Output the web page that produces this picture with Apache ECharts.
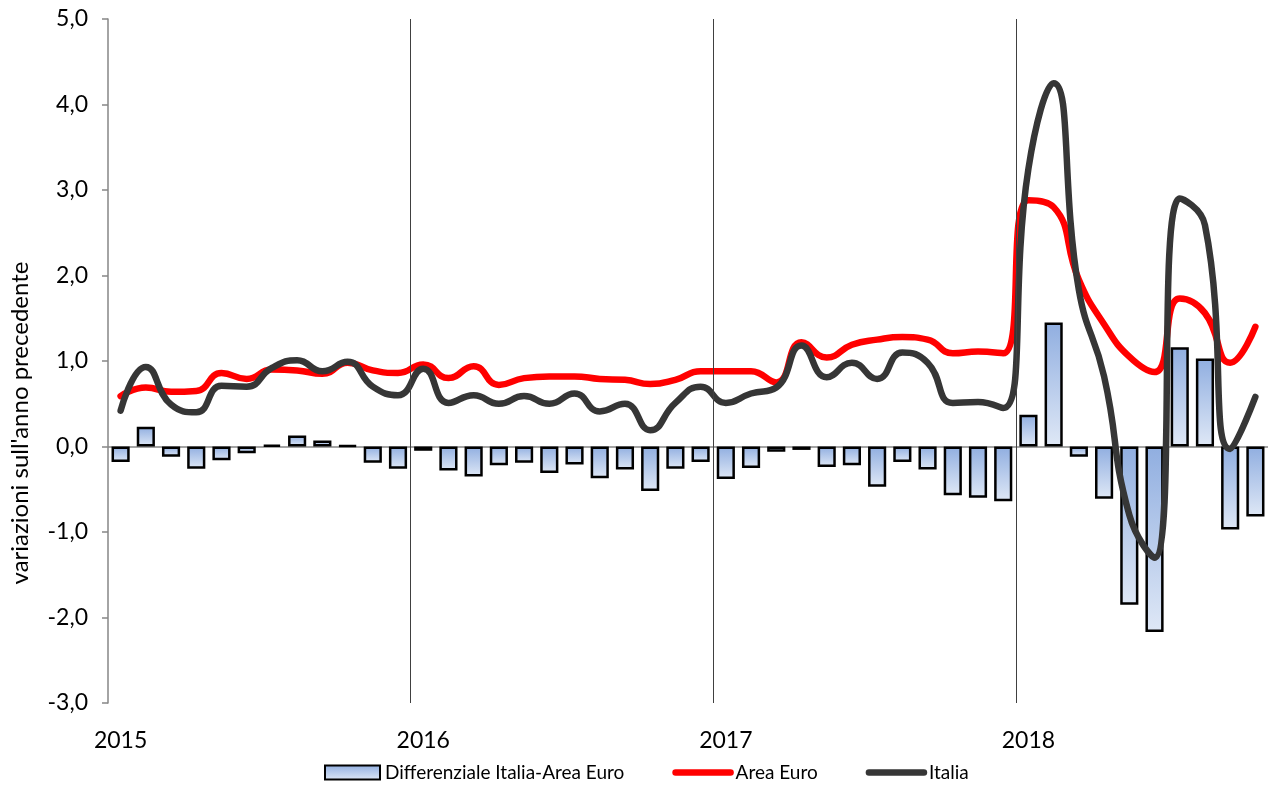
<!DOCTYPE html>
<html>
<head>
<meta charset="utf-8">
<script src="https://cdn.jsdelivr.net/npm/echarts@6/dist/echarts.min.js"></script>
<style>
html,body{margin:0;padding:0;background:#fff;}
#chart{width:1272px;height:789px;}
</style>
</head>
<body>
<div id="chart"></div>
<script>
// Months Jan 2015 - Oct 2018
const months = [
  '2015-01','2015-02','2015-03','2015-04','2015-05','2015-06','2015-07','2015-08','2015-09','2015-10','2015-11','2015-12',
  '2016-01','2016-02','2016-03','2016-04','2016-05','2016-06','2016-07','2016-08','2016-09','2016-10','2016-11','2016-12',
  '2017-01','2017-02','2017-03','2017-04','2017-05','2017-06','2017-07','2017-08','2017-09','2017-10','2017-11','2017-12',
  '2018-01','2018-02','2018-03','2018-04','2018-05','2018-06','2018-07','2018-08','2018-09','2018-10'
];

const differenziale = [
  -0.18, 0.23, -0.12, -0.26, -0.16, -0.08, 0.02, 0.13, 0.07, 0.01, -0.19, -0.26,
  -0.05, -0.28, -0.35, -0.22, -0.19, -0.31, -0.21, -0.37, -0.27, -0.52, -0.26, -0.18,
  -0.38, -0.25, -0.06, -0.04, -0.24, -0.22, -0.47, -0.18, -0.27, -0.57, -0.60, -0.64,
  0.37, 1.45, -0.12, -0.61, -1.85, -2.17, 1.16, 1.03, -0.97, -0.82
];

const areaEuro = [
  0.59, 0.69, 0.64, 0.65, 0.86, 0.79, 0.90, 0.89, 0.85, 0.98, 0.89, 0.86,
  0.96, 0.80, 0.94, 0.72, 0.80, 0.82, 0.82, 0.79, 0.78, 0.73, 0.78, 0.88,
  0.88, 0.88, 0.75, 1.22, 1.04, 1.19, 1.25, 1.28, 1.25, 1.09, 1.11, 1.09,
  2.88, 2.80, 1.95, 1.43, 1.05, 0.87, 1.73, 1.56, 0.98, 1.40
];

const italia = [
  0.42, 0.93, 0.49, 0.40, 0.71, 0.70, 0.92, 1.01, 0.88, 0.99, 0.70, 0.60,
  0.91, 0.51, 0.60, 0.50, 0.59, 0.50, 0.62, 0.41, 0.50, 0.19, 0.51, 0.70,
  0.51, 0.62, 0.69, 1.18, 0.81, 0.98, 0.79, 1.10, 0.98, 0.51, 0.52, 0.45,
  3.25, 4.25, 1.83, 0.82, -0.80, -1.30, 2.90, 2.59, -0.03, 0.58
];

const yTicks = { min: -3, max: 5, interval: 1 };
const yAxisName = "variazioni sull'anno precedente";
const seriesNames = ['Differenziale Italia-Area Euro', 'Area Euro', 'Italia'];

const FONT = "Lato, 'Noto Sans', sans-serif";

// year boundaries (index of each January after the first)
const yearBoundaries = months
  .map((m, i) => (m.endsWith('-01') && i > 0 ? i : null))
  .filter((v) => v !== null);

const chart = echarts.init(document.getElementById('chart'), null, { renderer: 'canvas' });

const hiddenSymbol = { color: 'rgba(0,0,0,0)', borderColor: 'rgba(0,0,0,0)', borderWidth: 0, opacity: 0 };

chart.setOption({
  animation: false,
  backgroundColor: '#ffffff',
  grid: { left: 107, right: 4, top: 19, bottom: 86, containLabel: false },
  legend: {
    bottom: 2,
    left: 319,
    itemGap: 48,
    itemWidth: 55,
    itemHeight: 14,
    lineStyle: { width: 6.5, cap: 'round' },
    textStyle: { fontFamily: FONT, fontSize: 19, color: '#000', padding: [0, 0, 0, 0] },
    data: [
      { name: seriesNames[0], icon: 'rect' },
      { name: seriesNames[1], itemStyle: hiddenSymbol },
      { name: seriesNames[2], itemStyle: hiddenSymbol }
    ]
  },
  xAxis: [
    {
      type: 'category',
      data: months,
      boundaryGap: true,
      axisLine: { show: false, onZero: false },
      axisTick: { show: false },
      axisLabel: {
        interval: (i) => i % 12 === 0,
        formatter: (v) => v.slice(0, 4),
        fontFamily: FONT,
        fontSize: 23,
        color: '#000',
        margin: 26
      },
      splitLine: { show: false }
    },
    {
      type: 'value',
      min: 0,
      max: months.length,
      show: false,
      splitLine: { show: false }
    }
  ],
  yAxis: {
    type: 'value',
    min: yTicks.min,
    max: yTicks.max,
    interval: yTicks.interval,
    name: yAxisName,
    nameLocation: 'middle',
    nameGap: 76,
    nameTextStyle: { fontFamily: FONT, fontSize: 24, color: '#000', padding: [0, 124, 0, 0] },
    axisLine: { show: true, lineStyle: { color: '#868686', width: 1.5 } },
    axisTick: { show: true, inside: false, length: 6, lineStyle: { color: '#868686', width: 1.5 } },
    axisLabel: {
      formatter: (v) => v.toFixed(1).replace('.', ','),
      fontFamily: FONT,
      fontSize: 23,
      color: '#000',
      margin: 20
    },
    splitLine: { show: false }
  },
  series: [
    {
      name: 'yearLines',
      type: 'line',
      xAxisIndex: 1,
      data: [],
      silent: true,
      markLine: {
        silent: true,
        symbol: ['none', 'none'],
        label: { show: false },
        lineStyle: { color: '#404040', type: 'solid', width: 1 },
        data: yearBoundaries.map((b) => ({ xAxis: b }))
      },
      z: 1
    },
    {
      name: seriesNames[0],
      type: 'bar',
      data: differenziale,
      barWidth: '72%',
      z: 2,
      itemStyle: {
        color: new echarts.graphic.LinearGradient(0, 0, 0, 1, [
          { offset: 0, color: '#90aee0' },
          { offset: 1, color: '#dfe8f6' }
        ]),
        borderColor: '#000',
        borderWidth: 2.5
      },
      markLine: {
        silent: true,
        symbol: ['none', 'none'],
        label: { show: false },
        lineStyle: { color: '#868686', type: 'solid', width: 1.5 },
        data: [{ yAxis: 0 }],
        z: 1
      }
    },
    {
      name: seriesNames[1],
      type: 'line',
      data: areaEuro,
      smooth: 0.5,
      symbol: 'none',
      z: 3,
      itemStyle: { color: '#ff0000' },
      lineStyle: { color: '#ff0000', width: 6.5, cap: 'round', join: 'round' }
    },
    {
      name: seriesNames[2],
      type: 'line',
      data: italia,
      smooth: 0.5,
      symbol: 'none',
      z: 4,
      itemStyle: { color: '#363636' },
      lineStyle: { color: '#363636', width: 6.5, cap: 'round', join: 'round' }
    }
  ]
});
</script>
</body>
</html>
